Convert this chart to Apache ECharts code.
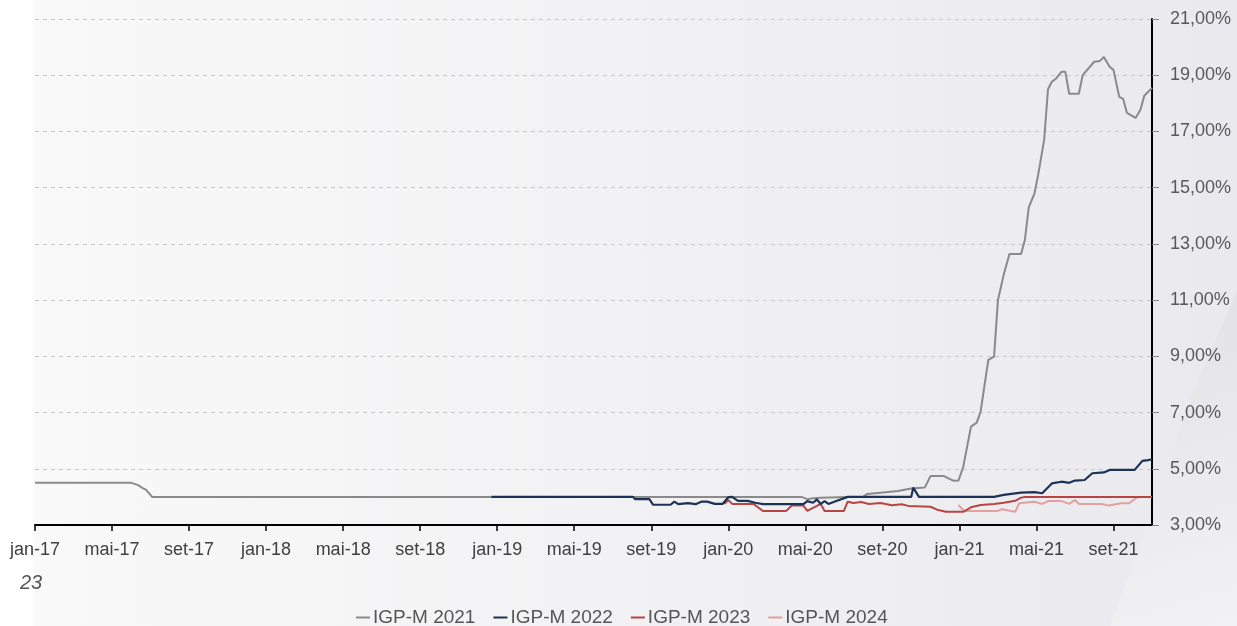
<!DOCTYPE html>
<html>
<head>
<meta charset="utf-8">
<script src="https://cdn.jsdelivr.net/npm/echarts@6/dist/echarts.min.js"></script>
<style>
  html, body { margin: 0; padding: 0; width: 1237px; height: 626px; overflow: hidden; }
  body {
    background: linear-gradient(to right, #ffffff 0px, #ffffff 33px, #f9f9f9 34px, #f2f2f4 600px, #eaeaee 1237px);
    position: relative;
  }
  #deco {
    position: absolute; left: 0; top: 0; width: 1237px; height: 626px;
    background: linear-gradient(160deg, #e6e6e9 0%, #dcdcdf 60%, #f4f4f6 100%);
    clip-path: polygon(1237px 290px, 1237px 626px, 1110px 626px, 1150px 520px, 1190px 400px);
    opacity: 0.8;
  }
  #chart { position: absolute; left: 0; top: 0; width: 1237px; height: 626px; }
</style>
</head>
<body>
<div id="deco"></div>
<div id="chart"></div>
<script>
// x = months since jan-2017 (0 = jan-17)
const xTickLabels = ['jan-17','mai-17','set-17','jan-18','mai-18','set-18','jan-19','mai-19','set-19','jan-20','mai-20','set-20','jan-21','mai-21','set-21'];
const yTicks = [3, 5, 7, 9, 11, 13, 15, 17, 19, 21];
const seriesNames = ['IGP-M 2021', 'IGP-M 2022', 'IGP-M 2023', 'IGP-M 2024'];

const igpm2021Mes = [0, 5.0, 5.36, 5.62, 5.77, 6.08, 39.8, 40.1, 40.4, 40.8, 42.2, 43.0, 43.2, 43.9, 44.8, 45.5, 46.2, 46.5, 47.2, 47.7, 47.95, 48.2, 48.6, 48.9, 49.1, 49.5, 49.8, 50.0, 50.3, 50.4, 50.6, 51.2, 51.4, 51.6, 51.9, 52.1, 52.4, 52.6, 52.8, 53.0, 53.3, 53.5, 53.7, 54.2, 54.4, 55.0, 55.3, 55.5, 55.8, 56.0, 56.3, 56.5, 56.7, 57.15, 57.4, 57.6, 58.0];
const igpm2021Val = [4.5, 4.5, 4.42, 4.3, 4.25, 4.0, 4.0, 3.92, 3.95, 3.97, 4.0, 4.0, 4.1, 4.15, 4.21, 4.3, 4.33, 4.74, 4.74, 4.57, 4.58, 5.07, 6.5, 6.64, 7.03, 8.87, 8.99, 11.0, 11.9, 12.15, 12.64, 12.64, 13.14, 14.3, 14.8, 15.5, 16.7, 18.5, 18.77, 18.87, 19.12, 19.12, 18.34, 18.34, 19.0, 19.48, 19.51, 19.65, 19.3, 19.19, 18.23, 18.16, 17.66, 17.48, 17.77, 18.27, 18.55];

const igpm2022Mes = [23.7, 31.05, 31.15, 31.9, 32.1, 33.0, 33.2, 33.4, 33.9, 34.3, 34.6, 34.9, 35.3, 35.7, 36.0, 36.2, 36.5, 37.0, 37.4, 37.8, 39.9, 40.1, 40.4, 40.6, 40.8, 41.0, 41.2, 41.5, 42.2, 45.5, 45.6, 45.9, 49.8, 50.3, 51.2, 51.9, 52.3, 52.8, 53.3, 53.7, 54.0, 54.5, 54.9, 55.5, 55.8, 57.1, 57.5, 57.8, 58.0];
const igpm2022Val = [4.0, 4.0, 3.92, 3.92, 3.72, 3.72, 3.83, 3.74, 3.78, 3.74, 3.83, 3.83, 3.75, 3.75, 3.99, 4.0, 3.86, 3.86, 3.79, 3.74, 3.74, 3.85, 3.79, 3.91, 3.75, 3.85, 3.75, 3.83, 4.0, 4.0, 4.33, 4.0, 4.0, 4.07, 4.15, 4.17, 4.13, 4.48, 4.54, 4.5, 4.58, 4.6, 4.84, 4.87, 4.96, 4.96, 5.28, 5.31, 5.34];

const igpm2023Mes = [35.8, 36.0, 36.2, 37.3, 37.8, 39.0, 39.3, 39.9, 40.1, 40.8, 41.0, 42.0, 42.2, 42.5, 42.9, 43.3, 43.9, 44.5, 45.0, 45.35, 46.5, 46.9, 47.3, 48.2, 48.6, 49.1, 49.8, 50.3, 50.9, 51.2, 51.4, 58.0];
const igpm2023Val = [3.75, 3.89, 3.75, 3.75, 3.5, 3.5, 3.69, 3.69, 3.5, 3.75, 3.5, 3.5, 3.83, 3.78, 3.82, 3.75, 3.78, 3.7, 3.74, 3.68, 3.65, 3.53, 3.47, 3.47, 3.63, 3.71, 3.75, 3.79, 3.86, 3.97, 4.0, 4.0];

const igpm2024Mes = [47.95, 48.25, 50.0, 50.2, 50.9, 51.1, 51.9, 52.3, 52.6, 53.3, 53.7, 54.0, 54.2, 55.4, 55.75, 56.4, 56.8, 57.2, 57.4, 58.0];
const igpm2024Val = [3.71, 3.5, 3.5, 3.56, 3.47, 3.77, 3.83, 3.75, 3.85, 3.85, 3.75, 3.89, 3.75, 3.75, 3.69, 3.77, 3.77, 3.97, 4.0, 4.0];

function pairs(xs, ys) { return xs.map((x, i) => [x, ys[i]]); }

const colors = { 'IGP-M 2021': '#8a8a8a', 'IGP-M 2022': '#1d3356', 'IGP-M 2023': '#b94444', 'IGP-M 2024': '#e3a0a0' };

const chart = echarts.init(document.getElementById('chart'), null, { renderer: 'canvas' });

function lineSeries(name, data, width, z) {
  return {
    name: name, type: 'line', data: data, showSymbol: false, symbol: 'none',
    smooth: false, z: z,
    lineStyle: { color: colors[name], width: width },
    itemStyle: { color: colors[name] },
    emphasis: { disabled: true }, animation: false
  };
}

chart.setOption({
  backgroundColor: 'transparent',
  animation: false,
  textStyle: { fontFamily: 'Liberation Sans, Arial, sans-serif' },
  grid: { left: 35, right: 85, top: 19, bottom: 101, containLabel: false },
  legend: {
    data: seriesNames,
    left: 351, top: 603,
    icon: 'rect', itemWidth: 14, itemHeight: 2, itemGap: 18,
    textStyle: { fontSize: 19, color: '#555555', padding: [0, 0, 0, -2] }
  },
  graphic: [{
    type: 'text', left: 20, top: 573,
    style: { text: '23', fontSize: 20, fontStyle: 'italic', fill: '#555555', fontFamily: 'Liberation Sans, Arial, sans-serif' }
  }],
  xAxis: {
    type: 'value', min: 0, max: 58, interval: 4,
    axisLine: { show: true, onZero: false, lineStyle: { color: '#000000', width: 2 } },
    axisTick: { show: true, length: 6, lineStyle: { color: '#000000', width: 1.5 } },
    axisLabel: {
      fontSize: 18, color: '#404040', margin: 16, showMaxLabel: false,
      formatter: function (v) { const i = Math.round(v / 4); return (v % 4 === 0 && xTickLabels[i]) ? xTickLabels[i] : ''; }
    },
    splitLine: { show: false }
  },
  yAxis: {
    type: 'value', position: 'right', min: 3, max: 21, interval: 2,
    axisLine: { show: true, onZero: false, lineStyle: { color: '#000000', width: 2 } },
    axisTick: { show: true, length: 7, lineStyle: { color: '#888888', width: 1 } },
    axisLabel: {
      fontSize: 18, color: '#595959', margin: 18,
      formatter: function (v) { return v.toFixed(2).replace('.', ',') + '%'; }
    },
    splitLine: { show: true, lineStyle: { color: '#c8c8c8', type: [4, 4], width: 1 } }
  },
  series: [
    lineSeries('IGP-M 2021', pairs(igpm2021Mes, igpm2021Val), 2, 2),
    lineSeries('IGP-M 2024', pairs(igpm2024Mes, igpm2024Val), 2, 3),
    lineSeries('IGP-M 2023', pairs(igpm2023Mes, igpm2023Val), 2, 4),
    lineSeries('IGP-M 2022', pairs(igpm2022Mes, igpm2022Val), 2.2, 5)
  ]
});
</script>
</body>
</html>
